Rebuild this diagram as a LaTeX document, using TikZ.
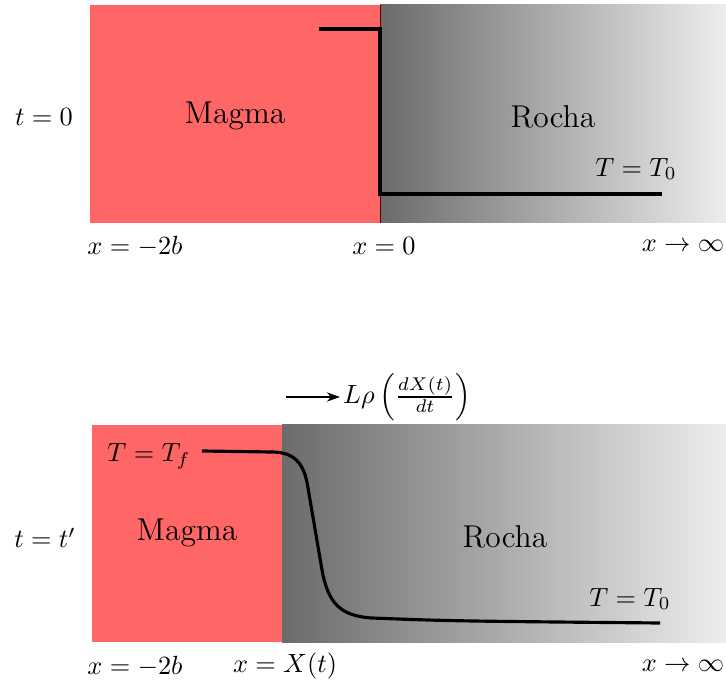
\documentclass[tikz,border=0pt]{standalone}
\usetikzlibrary{arrows.meta}
\begin{document}
\begin{tikzpicture}[x=0.38pt,y=-0.38pt,
  magma/.style={fill=red!60},
  rock/.style={left color=black!58,right color=black!7},
  lbl/.style={inner sep=0pt},
  big/.style={font=\large,inner sep=0pt},
  curve/.style={line width=1.2pt,line join=miter}]
\useasboundingbox (0,0) rectangle (726,683);
% top panel
\fill[magma] (90,5) rectangle (380,223);
\shade[rock] (380,5) rectangle (726,223);
\draw[red!35!black,line width=0.3pt] (380,5) -- (380,223);
\node[lbl] (t0) at (44,117) {$t=0$};
\node[big] (m1) at (235,116) {Magma};
\node[big] (r1) at (553,117) {Rocha};
\node[lbl] (T0a) at (636,169) {$T=T_0$};
\node[lbl] (xa1) at (135,246) {$x=-2b$};
\node[lbl] (xa2) at (384,246) {$x=0$};
\node[lbl] (xa3) at (683,246) {$x\rightarrow\infty$};
\draw[curve] (319,29) -- (380,29) -- (380,194) -- (662,194);
% bottom panel
\fill[magma] (92,425) rectangle (282,642);
\shade[rock] (282,425) rectangle (726,642);
\node[lbl] (t1) at (45,538) {$t=t'$};
\node[big] (m2) at (187,533) {Magma};
\node[big] (r2) at (505,537) {Rocha};
\node[lbl] (Tf) at (149,456) {$T=T_f$};
\node[lbl] (T0b) at (630,599) {$T=T_0$};
\node[lbl] (xb1) at (135,666) {$x=-2b$};
\node[lbl] (xb2) at (285,666) {$x=X(t)$};
\node[lbl] (xb3) at (683,666) {$x\rightarrow\infty$};
\draw[curve] (202,451) -- (272,452)
  .. controls (298,452) and (305,468) .. (308,488)
  -- (322,570)
  .. controls (328,603) and (340,616) .. (372,618)
  .. controls (450,621) .. (660,623);
% flux arrow
\coordinate (fa) at (286,397);
\node[anchor=west,inner sep=1pt] (flux) at (340,397) {$L\rho\left(\frac{dX(t)}{dt}\right)$};
\draw[-{Stealth[length=5pt,width=3.5pt]},line width=0.8pt] (fa) -- (flux.west);
\end{tikzpicture}
\end{document}
